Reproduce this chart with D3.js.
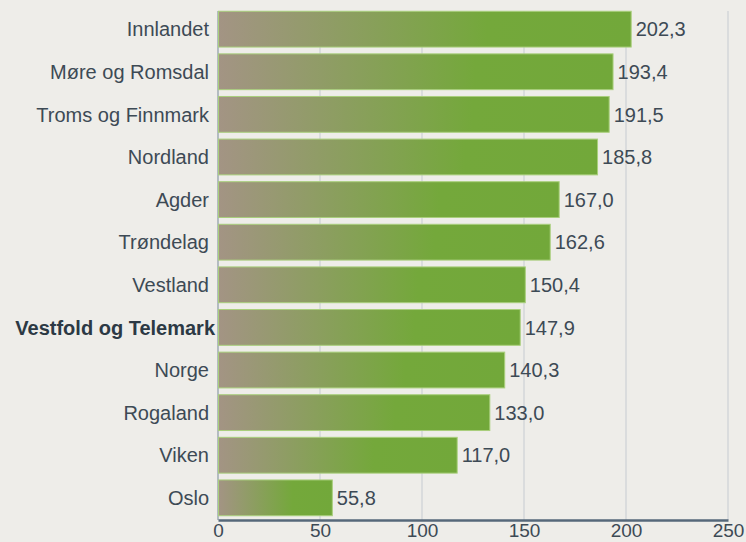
<!DOCTYPE html>
<html>
<head>
<meta charset="utf-8">
<script src="https://cdn.jsdelivr.net/npm/d3@7"></script>
<style>
  body { margin: 0; background: #eeede9; }
  svg { display: block; font-family: "Liberation Sans", Arial, sans-serif; }
</style>
</head>
<body>
<script>
// Fylker og verdier (lest av bildet)
const regions = ["Innlandet", "Møre og Romsdal", "Troms og Finnmark", "Nordland", "Agder", "Trøndelag",
                 "Vestland", "Vestfold og Telemark", "Norge", "Rogaland", "Viken", "Oslo"];
const values = [202.3, 193.4, 191.5, 185.8, 167.0, 162.6, 150.4, 147.9, 140.3, 133.0, 117.0, 55.8];
const xTicks = [0, 50, 100, 150, 200, 250];
const highlight = "Vestfold og Telemark";

const data = regions.map((r, i) => ({ label: r, value: values[i] }));

const W = 746, H = 542;
const margin = { top: 7, right: 18, bottom: 22, left: 218 };
const width = W - margin.left - margin.right;
const height = H - margin.top - margin.bottom;

const svg = d3.select("body").append("svg")
    .attr("width", W)
    .attr("height", H);

// Dégradé des barres
const grad = svg.append("defs").append("linearGradient")
    .attr("id", "barGrad")
    .attr("x1", "0%").attr("x2", "100%").attr("y1", "0%").attr("y2", "0%");
grad.append("stop").attr("offset", "0%").attr("stop-color", "#a39484");
grad.append("stop").attr("offset", "65%").attr("stop-color", "#74a83b");
grad.append("stop").attr("offset", "100%").attr("stop-color", "#72a83a");

const g = svg.append("g").attr("transform", `translate(${margin.left},${margin.top})`);

const x = d3.scaleLinear().domain([0, 250]).range([0, width]);
const y = d3.scaleBand().domain(regions).range([0, height]).paddingInner(0.16).paddingOuter(0.1);

// Grille verticale
g.append("g").selectAll("line")
    .data(xTicks.filter(d => d > 0))
    .join("line")
    .attr("x1", d => x(d)).attr("x2", d => x(d))
    .attr("y1", 4).attr("y2", height)
    .attr("stroke", "#cdd1d5")
    .attr("stroke-width", 1.2);

// Axe vertical
g.append("line")
    .attr("x1", 0).attr("x2", 0)
    .attr("y1", 4).attr("y2", height)
    .attr("stroke", "#8c9aa6")
    .attr("stroke-width", 1.2);

// Barres
g.append("g").selectAll("rect")
    .data(data)
    .join("rect")
    .attr("x", 0.5)
    .attr("y", d => y(d.label))
    .attr("width", d => x(d.value))
    .attr("height", y.bandwidth())
    .attr("fill", "url(#barGrad)")
    .attr("stroke", "#a9cf7c")
    .attr("stroke-width", 1);

// Valeurs
const fmt = v => v.toFixed(1).replace(".", ",");
g.append("g").selectAll("text")
    .data(data)
    .join("text")
    .attr("x", d => x(d.value) + 5)
    .attr("y", d => y(d.label) + y.bandwidth() / 2)
    .attr("dy", "0.36em")
    .attr("font-size", 20)
    .attr("fill", "#3d4a55")
    .text(d => fmt(d.value));

// Libellés des catégories
g.append("g").selectAll("text")
    .data(data)
    .join("text")
    .attr("x", d => d.label === highlight ? -3 : -9)
    .attr("y", d => y(d.label) + y.bandwidth() / 2)
    .attr("dy", "0.36em")
    .attr("text-anchor", "end")
    .attr("font-size", 20)
    .attr("font-weight", d => d.label === highlight ? "bold" : "normal")
    .attr("fill", d => d.label === highlight ? "#2c3944" : "#3d4a55")
    .text(d => d.label);

// Axe horizontal
const xAxis = g.append("g")
    .attr("transform", `translate(0,${height})`)
    .call(d3.axisBottom(x).tickValues(xTicks).tickSize(0).tickPadding(4));
xAxis.select(".domain").attr("stroke", "#56687a").attr("stroke-width", 2.5);
xAxis.selectAll("text")
    .attr("font-size", 19)
    .attr("font-family", "Liberation Sans, Arial, sans-serif")
    .attr("fill", "#3d4a55");
</script>
</body>
</html>
